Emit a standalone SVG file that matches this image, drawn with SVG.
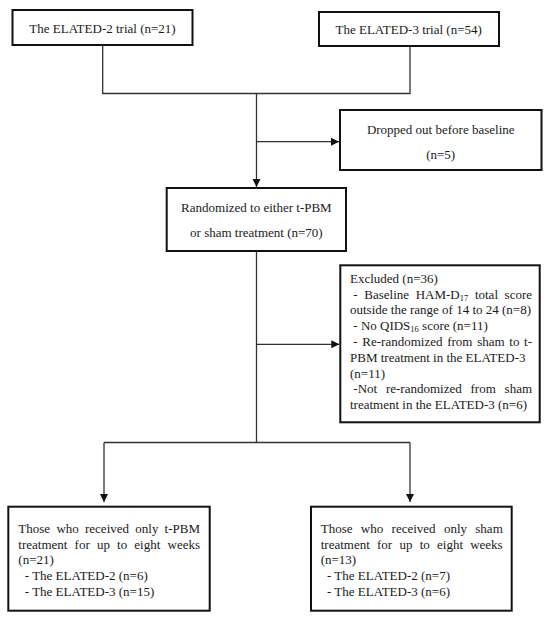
<svg xmlns="http://www.w3.org/2000/svg" width="550" height="619" viewBox="0 0 550 619">
<style>
.box{fill:#fff;stroke:#111;stroke-width:2}
.c{fill:none;stroke:#333;stroke-width:1.3}
text{font-family:"Liberation Serif","Times New Roman",serif;font-size:13px;fill:#1a1a1a}
.m{text-anchor:middle}
.sub{font-size:8.5px}
</style>
<defs>
<marker id="ah" markerUnits="userSpaceOnUse" markerWidth="9" markerHeight="9" refX="8" refY="4" orient="auto">
<path d="M0,0 L8,4 L0,8 Z" fill="#111"/>
</marker>
</defs>
<g id="connectors">
<path class="c" d="M102.7,46 V93.5 H410 V47"/>
<path class="c" d="M256.5,93.5 V187" marker-end="url(#ah)"/>
<path class="c" d="M256.5,141.7 H339" marker-end="url(#ah)"/>
<path class="c" d="M256.5,252 V442.5"/>
<path class="c" d="M256.5,344.3 H339.3" marker-end="url(#ah)"/>
<path class="c" d="M104,442.5 H410"/>
<path class="c" d="M104,442.5 V502" marker-end="url(#ah)"/>
<path class="c" d="M410,442.5 V502" marker-end="url(#ah)"/>
</g>
<g id="elated2">
<rect class="box" x="12.5" y="10" width="180" height="35"/>
<text class="m" x="102.5" y="32.5">The ELATED-2 trial (n=21)</text>
</g>
<g id="elated3">
<rect class="box" x="319" y="12" width="180" height="34"/>
<text class="m" x="408.7" y="33.8">The ELATED-3 trial (n=54)</text>
</g>
<g id="dropped">
<rect class="box" x="340" y="110" width="201.5" height="60"/>
<text class="m" x="440.7" y="133.8">Dropped out before baseline</text>
<text class="m" x="440.7" y="158.8">(n=5)</text>
</g>
<g id="randomized">
<rect class="box" x="166.7" y="188" width="179.3" height="63"/>
<text class="m" x="256.4" y="211.8">Randomized to either t-PBM</text>
<text class="m" x="256.4" y="237">or sham treatment (n=70)</text>
</g>
<g id="excluded">
<rect class="box" x="340.3" y="265.3" width="199.4" height="157"/>
<text x="350" y="282.8">Excluded (n=36)</text>
<text y="298.6"><tspan x="353.3">-</tspan><tspan x="364.3">Baseline</tspan><tspan x="415.7">HAM-D</tspan><tspan class="sub" dy="2">17</tspan><tspan x="474.9" dy="-2">total</tspan><tspan x="504.6">score</tspan></text>
<text x="350" y="314.4">outside the range of 14 to 24 (n=8)</text>
<text y="330.2"><tspan x="353.3">- No QIDS</tspan><tspan class="sub" dy="2">16</tspan><tspan dy="-2"> score (n=11)</tspan></text>
<text y="346"><tspan x="353.3">-</tspan><tspan x="362.3">Re-randomized</tspan><tspan x="447.2">from</tspan><tspan x="477.2">sham</tspan><tspan x="509.3">to</tspan><tspan x="524.1">t-</tspan></text>
<text x="350" y="361.8">PBM treatment in the ELATED-3</text>
<text x="350" y="377.6">(n=11)</text>
<text y="393.4"><tspan x="353.3">-Not</tspan><tspan x="385.9">re-randomized</tspan><tspan x="470.5">from</tspan><tspan x="504.6">sham</tspan></text>
<text x="350" y="409.2">treatment in the ELATED-3 (n=6)</text>
</g>
<g id="tpbm">
<rect class="box" x="8.3" y="506.7" width="201.4" height="104"/>
<text y="532.8"><tspan x="18.3">Those</tspan><tspan x="56.4">who</tspan><tspan x="85">received</tspan><tspan x="135.3">only</tspan><tspan x="164.6">t-PBM</tspan></text>
<text y="548.6"><tspan x="18.3">treatment</tspan><tspan x="74.6">for</tspan><tspan x="96.9">up</tspan><tspan x="117.1">to</tspan><tspan x="134.3">eight</tspan><tspan x="167.5">weeks</tspan></text>
<text x="18.3" y="564.4">(n=21)</text>
<text x="24.8" y="580.2">- The ELATED-2 (n=6)</text>
<text x="24.8" y="596">- The ELATED-3 (n=15)</text>
</g>
<g id="sham">
<rect class="box" x="311" y="506.7" width="200.7" height="104"/>
<text y="532.8"><tspan x="320.7">Those</tspan><tspan x="360.8">who</tspan><tspan x="391.6">received</tspan><tspan x="443.9">only</tspan><tspan x="475.3">sham</tspan></text>
<text y="548.6"><tspan x="320.7">treatment</tspan><tspan x="377">for</tspan><tspan x="399.4">up</tspan><tspan x="419.7">to</tspan><tspan x="437">eight</tspan><tspan x="470.2">weeks</tspan></text>
<text x="320.7" y="564.4">(n=13)</text>
<text x="327" y="580.2">- The ELATED-2 (n=7)</text>
<text x="327" y="596">- The ELATED-3 (n=6)</text>
</g>
</svg>
